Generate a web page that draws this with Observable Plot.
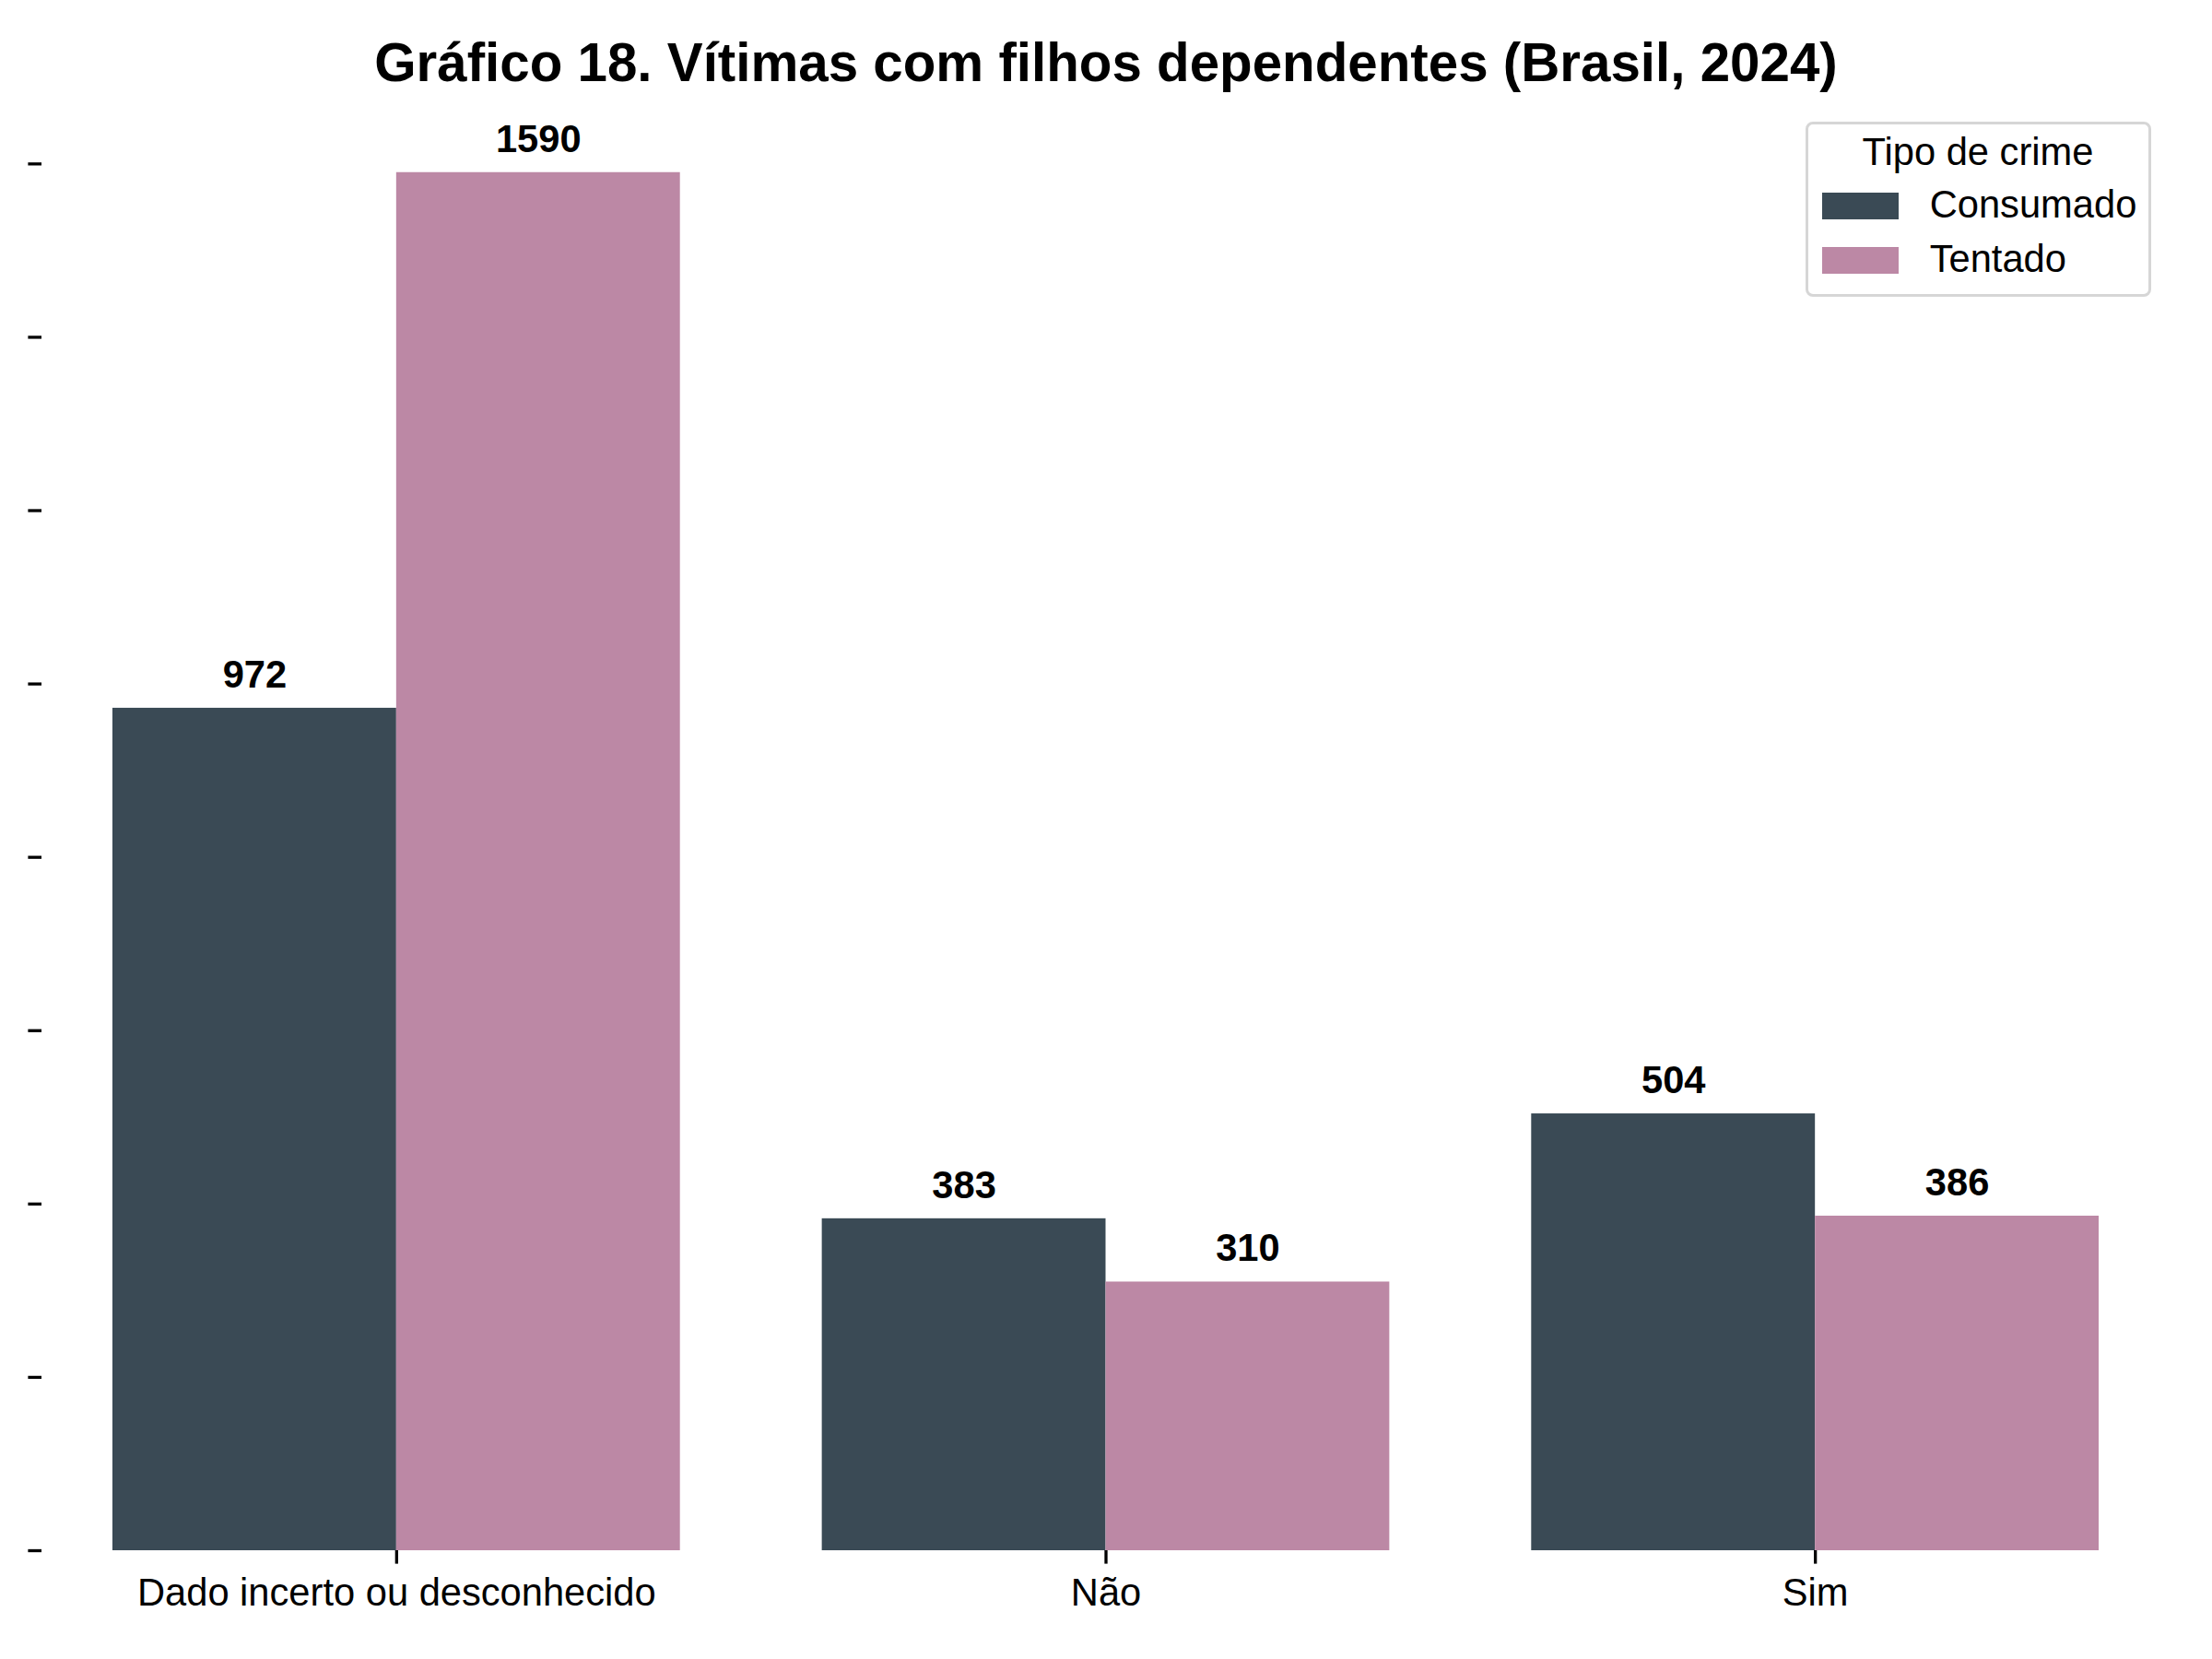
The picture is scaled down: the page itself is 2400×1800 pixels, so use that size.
<!DOCTYPE html>
<html>
<head>
<meta charset="utf-8">
<script src="https://cdn.jsdelivr.net/npm/d3@7"></script>
<script src="https://cdn.jsdelivr.net/npm/@observablehq/plot@0.6"></script>
<style>
  body { margin: 0; background: #fff; font-family: "Liberation Sans", Arial, sans-serif; }
  #wrap { position: relative; width: 2400px; height: 1800px; background: #fff; overflow: hidden; }
  #title { position: absolute; left: 0; top: 38.6px; width: 2400px; text-align: center; font-size: 58.3px; line-height: 58.3px; font-weight: bold; white-space: nowrap; color: #000; }
  #chart { position: absolute; left: 0; top: 100px; }
  #legend { position: absolute; left: 1959px; top: 132px; width: 375px; height: 190px; box-sizing: border-box; border: 3.3px solid #d6d6d6; border-radius: 8px; background: #fff; }
  .lg-text { position: absolute; font-size: 41.67px; line-height: 41.67px; white-space: nowrap; color: #000; }
  .lg-sw { position: absolute; width: 83px; height: 29px; }
</style>
</head>
<body>
<div id="wrap">
  <div id="title"></div>
  <div id="chart"></div>
  <div id="legend"></div>
</div>
<script>
const titleText = "Gráfico 18. Vítimas com filhos dependentes (Brasil, 2024)";
const legendTitle = "Tipo de crime";
const categories = ["Dado incerto ou desconhecido", "Não", "Sim"];
const series = ["Consumado", "Tentado"];
const consumado = [972, 383, 504];
const tentado = [1590, 310, 386];
const yTicks = [0, 200, 400, 600, 800, 1000, 1200, 1400, 1600];
const colors = ["#3a4a55", "#bc88a5"];

const data = categories.flatMap((c, i) => [
  {cat: c, tipo: series[0], v: consumado[i]},
  {cat: c, tipo: series[1], v: tentado[i]}
]);

document.getElementById("title").textContent = titleText;

const W = 2400, H = 1700, ML = 45, MR = 46, MT = 12, MB = 118;
const PIN = 0.2, POUT = 0.1;
const step = (W - ML - MR) / (categories.length - PIN + 2 * POUT);
const axisShift = -POUT * step; // y axis sits at the plot's left edge, not the first facet's

const chart = Plot.plot({
  width: W,
  height: H,
  marginTop: MT,
  marginBottom: MB,
  marginLeft: ML,
  marginRight: MR,
  style: {fontFamily: "'Liberation Sans', Arial, sans-serif", fontSize: "41.67px", background: "white", color: "black"},
  fx: {domain: categories, paddingInner: PIN, paddingOuter: POUT, round: false, label: null},
  x: {domain: series, padding: 0, round: false, axis: null},
  y: {domain: [0, d3.max([...consumado, ...tentado]) * 1.05], axis: null},
  color: {domain: series, range: colors},
  marks: [
    Plot.barY(data, {fx: "cat", x: "tipo", y: "v", fill: "tipo"}),
    Plot.text(data, {fx: "cat", x: "tipo", y: "v", text: d => String(d.v), fontWeight: "bold", fontSize: 41.67, lineAnchor: "middle", dy: -36, fill: "black"}),
    Plot.axisY({ticks: yTicks, tickFormat: () => "", tickSize: 14.6, strokeWidth: 3.3, dx: axisShift, label: null}),
    Plot.axisFx({anchor: "bottom", tickSize: 14.6, tickPadding: 15.8, strokeWidth: 3.3, fontSize: 41.67, label: null})
  ]
});
document.getElementById("chart").appendChild(chart);

// legend
const lg = d3.select("#legend");
lg.append("div").attr("class", "lg-text")
  .style("left", "0px").style("width", "368px").style("text-align", "center")
  .style("top", (144.7 - 132 - 3.3) + "px").text(legendTitle);
series.forEach((s, i) => {
  const swTop = [209, 268][i] - 132 - 3.3;
  const txTop = [201.7, 260.7][i] - 132 - 3.3;
  lg.append("div").attr("class", "lg-sw").style("left", (1977 - 1959 - 3.3) + "px").style("top", swTop + "px").style("background", colors[i]);
  lg.append("div").attr("class", "lg-text").style("left", (2094 - 1959 - 3.3) + "px").style("top", txTop + "px").text(s);
});
</script>
</body>
</html>
